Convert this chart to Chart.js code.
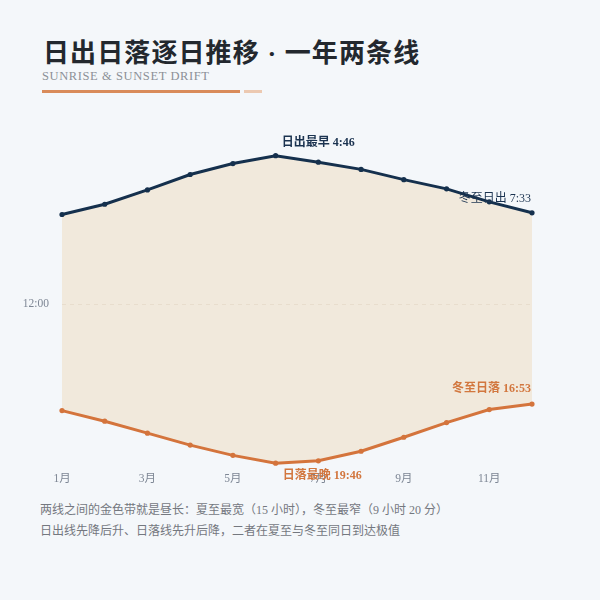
<!DOCTYPE html>
<html>
<head>
<meta charset="utf-8">
<script src="https://cdn.jsdelivr.net/npm/chart.js@4.4.0/dist/chart.umd.min.js"></script>
<style>
  html, body { margin: 0; padding: 0; background: #f4f7fa; }
  body { width: 600px; height: 600px; position: relative; overflow: hidden;
         font-family: "Liberation Serif", "Noto Sans CJK SC", serif; }
  .title { position: absolute; left: 43px; top: 32px; font-size: 26px; font-weight: bold;
           color: #23282e; letter-spacing: 1.1px; }
  .sub { position: absolute; left: 42px; top: 69px; font-size: 12.5px; color: #8c9097;
         letter-spacing: 0.6px; }
  .bar1 { position: absolute; left: 42px; top: 90px; width: 198px; height: 3px; background: #d98b5a; }
  .bar2 { position: absolute; left: 244px; top: 90px; width: 18px; height: 3px; background: #ecc9b1; }
  .wrap { position: absolute; left: 0; top: 100px; width: 600px; height: 400px; }
  .note { position: absolute; left: 40px; top: 500px; font-size: 12px; color: #74787f; line-height: 21px; }
</style>
</head>
<body>
<div class="title">日出日落逐日推移 · 一年两条线</div>
<div class="sub">SUNRISE &amp; SUNSET DRIFT</div>
<div class="bar1"></div><div class="bar2"></div>
<div class="wrap"><canvas id="chart"></canvas></div>
<div class="note">两线之间的金色带就是昼长：夏至最宽（15 小时），冬至最窄（9 小时 20 分）<br>日出线先降后升、日落线先升后降，二者在夏至与冬至同日到达极值</div>
<script>
// month labels + sunrise / sunset times
const months = ['1月', '2月', '3月', '4月', '5月', '6月', '7月', '8月', '9月', '10月', '11月', '12月'];
const sunrise = ['7:38', '7:08', '6:26', '5:41', '5:09', '4:46', '5:05', '5:26', '5:56', '6:23', '7:01', '7:33'];
const sunset = ['17:12', '17:43', '18:18', '18:53', '19:23', '19:46', '19:39', '19:11', '18:30', '17:47', '17:09', '16:53'];
const yTicks = [12];

function toHours(s) {
  const [h, m] = s.split(':').map(Number);
  return h + m / 60;
}
function fmt(v) {
  const h = Math.floor(v);
  const m = Math.round((v - h) * 60);
  return h + ':' + String(m).padStart(2, '0');
}

const serif = '"Liberation Serif", "Noto Sans CJK SC", serif';

// notes next to the extreme points
const labelPlugin = {
  id: 'pointNotes',
  afterDatasetsDraw(chart) {
    const ctx = chart.ctx;
    const x = chart.scales.x, y = chart.scales.y;
    const jun = 5, dec = 11;
    ctx.save();
    ctx.textBaseline = 'middle';

    ctx.font = 'bold 12px ' + serif;
    ctx.fillStyle = '#1b3350';
    ctx.textAlign = 'left';
    ctx.fillText('日出最早 ' + sunrise[jun], x.getPixelForValue(jun) + 6, y.getPixelForValue(toHours(sunrise[jun])) - 13);

    ctx.font = '12px ' + serif;
    ctx.textAlign = 'right';
    ctx.fillText('冬至日出 ' + sunrise[dec], x.getPixelForValue(dec) - 1, y.getPixelForValue(toHours(sunrise[dec])) - 14);

    ctx.font = 'bold 12px ' + serif;
    ctx.fillStyle = '#d2773f';
    ctx.textAlign = 'right';
    ctx.fillText('冬至日落 ' + sunset[dec], x.getPixelForValue(dec) - 1, y.getPixelForValue(toHours(sunset[dec])) - 15);

    ctx.textAlign = 'left';
    ctx.fillText('日落最晚 ' + sunset[jun], x.getPixelForValue(jun) + 7, y.getPixelForValue(toHours(sunset[jun])) + 13);
    ctx.restore();
  }
};

new Chart(document.getElementById('chart'), {
  type: 'line',
  data: {
    labels: months,
    datasets: [
      {
        label: '日出',
        data: sunrise.map(toHours),
        borderColor: '#15304d',
        backgroundColor: '#15304d',
        borderWidth: 3,
        pointRadius: 2.6,
        pointBorderWidth: 0,
        pointBackgroundColor: '#15304d',
        tension: 0,
        fill: false
      },
      {
        label: '日落',
        data: sunset.map(toHours),
        borderColor: '#d4743c',
        backgroundColor: '#d4743c',
        borderWidth: 3,
        pointRadius: 2.6,
        pointBorderWidth: 0,
        pointBackgroundColor: '#d4743c',
        tension: 0,
        fill: { target: '-1', above: 'rgba(240,228,210,0.75)', below: 'rgba(240,228,210,0.75)' }
      }
    ]
  },
  options: {
    responsive: true,
    maintainAspectRatio: false,
    animation: false,
    layout: { padding: { left: 0, right: 68, top: 40, bottom: 0 } },
    plugins: {
      legend: { display: false },
      tooltip: { enabled: false }
    },
    scales: {
      x: {
        offset: false,
        grid: { display: false, drawTicks: false },
        border: { display: false },
        afterFit(s) { s.height = 32; },
        ticks: {
          color: '#7d8694',
          font: { family: serif, size: 11.5 },
          padding: 4,
          maxRotation: 0,
          autoSkip: false,
          callback(v, i) { return i % 2 === 0 ? months[i] : ''; }
        }
      },
      y: {
        reverse: true,
        min: 4,
        max: 20,
        afterFit(s) { s.width = 62; },
        afterBuildTicks(s) { s.ticks = yTicks.map(v => ({ value: v })); },
        border: { display: false, dash: [4, 4] },
        grid: { color: '#cdc8bf', drawTicks: false, lineWidth: 1 },
        ticks: {
          color: '#7d8694',
          font: { family: serif, size: 11.5 },
          padding: 13,
          callback: v => fmt(v)
        }
      }
    }
  },
  plugins: [labelPlugin]
});
</script>
</body>
</html>
